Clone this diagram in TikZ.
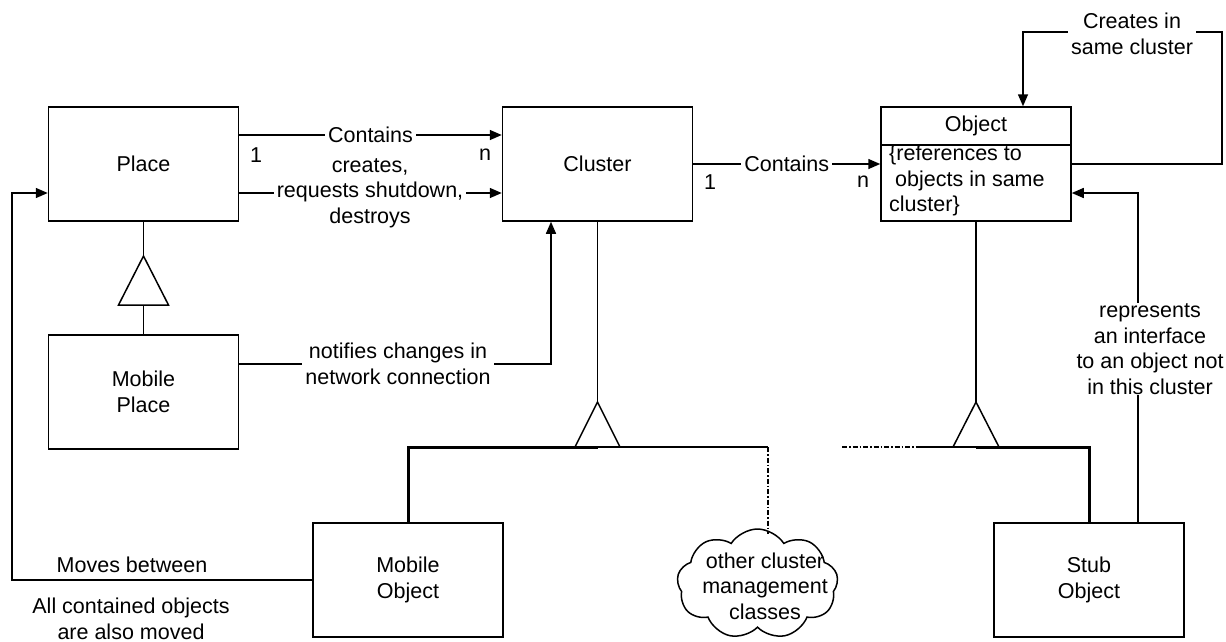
\documentclass[tikz,border=0pt]{standalone}
\usepackage{fontspec}
\setmainfont{Liberation Sans}
\usetikzlibrary{shapes.symbols,arrows.meta}
\begin{document}
\begin{tikzpicture}[x=1pt,y=-1pt,
  every node/.style={font=\fontsize{21.5}{25.5}\selectfont, inner sep=0pt},
  cls/.style={draw, line width=1.5pt, minimum width=190pt, minimum height=114pt, align=center},
  ln/.style={line width=1.5pt},
  heavy/.style={line width=3pt},
  arr/.style={ln, -{Triangle[length=12pt,width=10pt]}},
  lbl/.style={fill=white, align=center, inner xsep=3pt, inner ysep=1pt},
  dashdot/.style={line width=1.5pt, dash pattern=on 5pt off 2pt on 1.5pt off 2pt},
  gen/.style={ln, fill=white, line join=miter},
]
\useasboundingbox (0,0) rectangle (1226,641);

% classes
\node[cls] (place)   at (143.5,164) {Place};
\node[cls] (cluster) at (597.5,164) {Cluster};
\node[cls] (mplace)  at (143.5,392) {Mobile\\Place};
\node[cls] (mobj)    at (408,580)   {Mobile\\Object};
\node[cls] (stub)    at (1089,580)  {Stub\\Object};
\node[cls] (obj)     at (976,164)   {};
\draw[ln] (obj.west |- 0,145) -- (obj.east |- 0,145);
\node (objname) at (976,126) {Object};
\node[align=left, anchor=north west] (objrefs) at (889,145)
  {\{references to\\\hspace*{0.28em}objects in same\\cluster\}};

% cloud of other classes
\node[cloud, draw, line width=1.5pt, cloud puffs=9, cloud puff arc=115, aspect=1.45,
      minimum width=161pt, minimum height=110pt] (cloud) at (757.5,584) {};
\node[align=center] (cloudtxt) at (765,586) {other cluster\\management\\classes};

% generalisation: Place <- Mobile Place
\coordinate (ptop) at (143.5,256);
\draw[gen] (ptop) -- (118.5,305) -- (168.5,305) -- cycle;
\draw[ln] (place.south) -- (ptop);
\draw[ln] (143.5,305) -- (mplace.north);

% generalisation: Cluster <- Mobile Object, other classes
\coordinate (ctop) at (597.5,402);
\coordinate (cbase) at (597.5,447);
\coordinate (cright) at (768,447);
\coordinate (cloudtop) at (768,534);
\draw[ln] (cluster.south) -- (ctop);
\draw[ln] (cbase) -- (cright);
\draw[dashdot] (cright) -- (cloudtop);
\draw[heavy] (mobj.north) -- (mobj.north |- cbase) -- (cbase);
\draw[gen, fill=none] (ctop) -- (575,447) -- (620,447) -- cycle;

% generalisation: Object <- Stub Object
\coordinate (otop) at (976,402);
\coordinate (obase) at (976,447);
\coordinate (oleft) at (842,447);
\coordinate (othin) at (920,447);
\draw[ln] (obj.south) -- (otop);
\draw[dashdot] (oleft) -- (othin);
\draw[ln] (othin) -- (obase);
\draw[heavy] (stub.north) -- (stub.north |- obase) -- (obase);
\draw[gen, fill=none] (otop) -- (953,447) -- (999,447) -- cycle;

% associations
\draw[arr] ([yshift=29pt]place.east) -- ([yshift=29pt]cluster.west)
  node[lbl, midway] (contains1) {Contains};
\node (one1) at (256,155) {1};
\node (n1) at (485,155) {n};
\draw[arr] ([yshift=-29pt]place.east) -- ([yshift=-29pt]cluster.west);
\node[lbl] (creates) at (370,193) {creates,\\requests shutdown,\\destroys};

\draw[arr] (cluster.east) -- (obj.west)
  node[lbl, pos=0.5] (contains2) {Contains};
\node (one2) at (710,182) {1};
\node (n2) at (863,182) {n};

\draw[arr] (obj.east) -- (1222,164) -- (1222,32) -- (1023,32) -- ([xshift=47pt]obj.north);
\node[lbl] (selfcreate) at (1132,34) {Creates in\\same cluster};

\draw[arr] ([xshift=49pt]stub.north) -- (1138,193) -- ([yshift=-29pt]obj.east);
\node[lbl] (represents) at (1150,349) {represents\\an interface\\to an object not\\in this cluster};

\draw[arr] ([yshift=28pt]mplace.east) -- (551,364) -- ([xshift=-46.5pt]cluster.south);
\node[lbl] (notifies) at (398,364) {notifies changes in\\network connection};

\draw[arr] (mobj.west) -- (12,580) -- (12,193) -- ([yshift=-29pt]place.west);
\node (moves) at (132,565) {Moves between};
\node[align=center, anchor=north] (alsomoved) at (131,598) {All contained objects\\are also moved};
\end{tikzpicture}
\end{document}
